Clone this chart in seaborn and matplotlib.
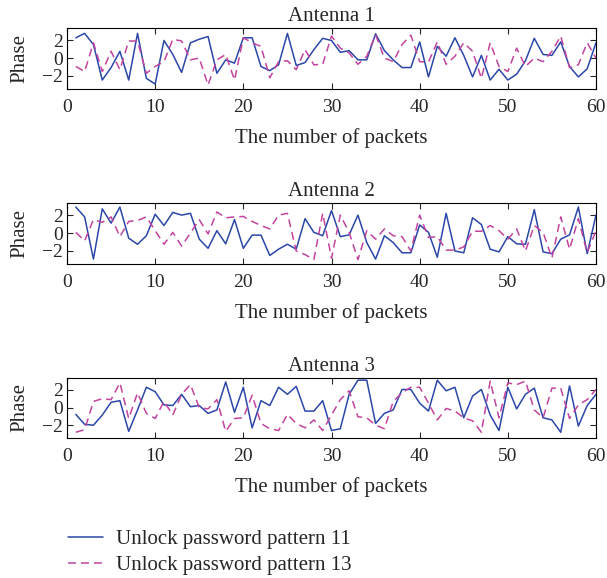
import numpy as np
import pandas as pd
import matplotlib
matplotlib.use("Agg")
import matplotlib.pyplot as plt
import seaborn as sns

packets = list(range(1, 61))

ant1_p11 = [2.26, 2.75, 1.5, -2.45, -1.06, 0.75, -2.45, 2.75, -2.26, -2.9,
            1.96, 0.4, -1.6, 1.7, 2.1, 2.4, -1.7, -0.2, -0.57, 2.26,
            2.26, -0.94, -1.4, -0.75, 2.75, -0.83, -0.5, 0.94, 2.2, 1.96,
            0.64, 0.83, -0.2, -0.2, 2.7, 0.83, -0.2, -1.06, -1.06, 1.8,
            -2.1, 1.3, 0.2, 2.26, 0.3, -2.1, 0.3, -2.45, -1.25, -2.45,
            -1.8, -0.3, 2.2, 0.4, 0.3, 1.8, -0.94, -2.1, -1.2, 1.7]
ant1_p13 = [-0.94, -1.5, 1.7, -1.5, 0.75, -1.3, 1.9, 1.9, -1.7, -0.94,
            -0.4, 2.1, 1.9, -0.2, 0.0, -3.0, -0.2, 0.4, -2.45, 2.26,
            1.7, 1.3, -2.2, -0.4, -0.3, -1.3, 0.94, -0.75, -0.7, 2.45,
            1.1, 0.57, -0.7, 0.2, 2.6, 0.0, -0.4, 1.5, 2.56, -0.4,
            -0.45, 1.8, -0.7, 0.2, 1.7, 0.75, -2.26, 1.7, -0.94, -1.5,
            1.1, -0.94, 0.0, -0.4, 0.75, 2.45, -1.06, -0.75, 1.7, 0.0]

ant2_p11 = [2.9, 1.8, -2.9, 2.7, 1.1, 2.9, -0.57, -1.25, -0.3, 2.1,
            0.84, 2.3, 2.0, 2.2, -0.68, -1.7, 0.27, -1.2, 1.5, -1.7,
            -0.23, -0.23, -2.5, -1.8, -1.25, -1.8, 1.6, 0.08, -0.3, 2.5,
            -0.4, -0.2, 2.0, -1.06, -2.9, -0.3, -1.06, -2.2, -2.2, 0.9,
            0.08, -2.7, 2.2, -2.0, -2.2, 1.7, 0.95, -1.8, -2.1, -0.4,
            -1.2, -1.25, 2.6, -2.1, -2.3, -0.68, -0.2, 2.9, -2.3, 2.0]
ant2_p13 = [0.08, -0.87, 1.5, 1.2, 1.8, -0.4, 1.3, 1.4, 1.8, 0.27,
            -1.25, 0.08, -1.45, 0.0, 1.5, -0.1, 2.35, 1.7, 1.8, 1.85,
            1.3, 0.84, 0.46, 2.0, 2.2, -2.0, -2.4, -2.96, 2.2, -2.8,
            2.0, 0.08, -2.96, 0.27, -0.68, 0.46, -0.3, -0.4, -2.0, 2.0,
            -0.5, -0.4, -1.9, -1.9, -1.55, 0.2, 0.2, 0.84, 0.27, -0.68,
            0.46, -2.0, 0.84, 0.08, -2.8, 1.8, -1.8, 1.6, -2.2, 0.27]

ant3_p11 = [-0.78, -1.9, -2.0, -0.85, 0.6, 0.78, -2.7, -0.27, 2.3, 1.8,
            0.3, 0.23, 1.5, 0.1, 0.23, -0.66, -0.27, 2.9, -0.54, 2.3,
            -2.3, 0.78, 0.23, 2.3, 1.5, 2.4, -0.4, -0.4, 0.78, -2.6,
            -2.4, 1.5, 3.1, 3.1, -1.8, -0.66, -0.27, 2.05, 2.05, 0.5,
            -0.4, 3.1, 1.9, 2.3, -1.16, 1.3, 2.05, -0.85, -2.6, 2.3,
            -0.15, 1.5, 2.2, -1.16, -1.4, -2.8, 2.45, -2.1, 0.23, 1.5]
ant3_p13 = [-2.8, -2.5, 0.7, 1.0, 0.9, 2.8, -1.24, 1.67, -0.66, -1.24,
            0.7, -0.85, 1.5, 2.6, 0.0, -0.15, 0.9, -2.7, -1.24, -1.16,
            1.4, -1.8, -2.4, -2.6, -0.78, -1.8, -2.3, -1.4, -2.6, -0.85,
            0.9, 1.9, -1.05, -1.16, -2.0, -2.4, 0.7, 1.67, 2.3, 2.3,
            0.5, -1.4, -0.1, -0.4, -1.16, -1.5, -2.8, 3.0, -1.16, 2.8,
            2.6, 3.0, -0.27, -1.16, 2.2, 2.2, -1.24, 0.3, 0.9, 2.05]

titles = ["Antenna 1", "Antenna 2", "Antenna 3"]
series_names = ["Unlock password pattern 11", "Unlock password pattern 13"]
xlabel = "The number of packets"
ylabel = "Phase"
xticks = [0, 10, 20, 30, 40, 50, 60]
yticks = [-2, 0, 2]

sns.set_style("ticks")
plt.rcParams["font.family"] = ["Liberation Serif", "DejaVu Serif"]
plt.rcParams["axes.unicode_minus"] = True

blue = "#2b47a8"
pink = "#c2449f"

fig = plt.figure(figsize=(6.07, 5.78), dpi=100)
W, H = 607, 578
boxes = [(28, 89), (203, 264), (378, 438)]
left, right = 67, 596

data = [(ant1_p11, ant1_p13), (ant2_p11, ant2_p13), (ant3_p11, ant3_p13)]
handles = None
for i, ((top, bot), (s11, s13)) in enumerate(zip(boxes, data)):
    ax = fig.add_axes([left / W, 1 - bot / H, (right - left) / W, (bot - top) / H])
    df = pd.DataFrame({"x": packets, "a": s11, "b": s13})
    sns.lineplot(data=df, x="x", y="a", ax=ax, color=blue, lw=1.1,
                 label=series_names[0])
    sns.lineplot(data=df, x="x", y="b", ax=ax, color=pink, lw=1.1,
                 label=series_names[1])
    ax.lines[1].set_dashes((5.2, 3.3))
    ax.set_xlim(0, 60)
    ax.set_ylim(-3.45, 3.35)
    ax.set_xticks(xticks)
    ax.set_yticks(yticks)
    ax.tick_params(direction="in", top=True, right=True, length=4,
                   labelsize=14, width=0.8)
    ax.tick_params(axis="x", pad=7)
    ax.tick_params(axis="y", pad=3)
    for sp in ax.spines.values():
        sp.set_linewidth(0.8)
        sp.set_color("black")
    ax.set_title(titles[i], fontsize=15, pad=5)
    ax.set_xlabel(xlabel, fontsize=15, labelpad=9)
    ax.set_ylabel(ylabel, fontsize=15, labelpad=9)
    if handles is None:
        handles, labels = ax.get_legend_handles_labels()
    ax.get_legend().remove()

fig.legend(handles, labels, loc="upper left", bbox_to_anchor=(49 / W, 1 - 511 / H),
           frameon=False, fontsize=15, handlelength=1.7, handletextpad=0.62,
           labelspacing=0.3)

fig.savefig("out.png", dpi=100)
